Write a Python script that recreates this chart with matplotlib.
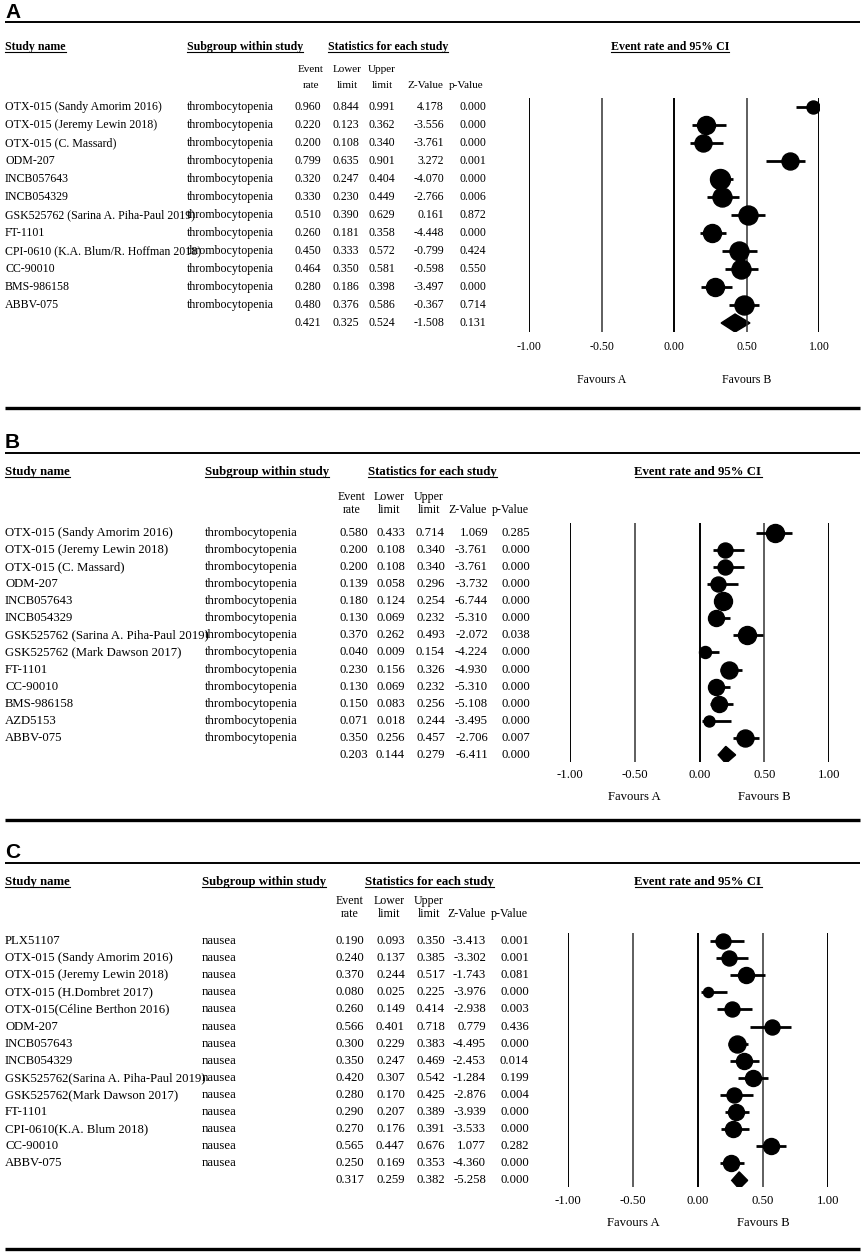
import matplotlib
matplotlib.use('Agg')
import matplotlib.pyplot as plt
from matplotlib.patches import Polygon

plt.rcParams['font.family'] = ['Liberation Serif', 'DejaVu Serif']

W, H = 865, 1252

# ---------------- data ----------------
a_names = ['OTX-015 (Sandy Amorim 2016)', 'OTX-015 (Jeremy Lewin 2018)', 'OTX-015 (C. Massard)',
           'ODM-207', 'INCB057643', 'INCB054329', 'GSK525762 (Sarina A. Piha-Paul 2019)', 'FT-1101',
           'CPI-0610 (K.A. Blum/R. Hoffman 2018)', 'CC-90010', 'BMS-986158', 'ABBV-075']
a_group = ['thrombocytopenia'] * 12
a_rate = [0.960, 0.220, 0.200, 0.799, 0.320, 0.330, 0.510, 0.260, 0.450, 0.464, 0.280, 0.480]
a_lower = [0.844, 0.123, 0.108, 0.635, 0.247, 0.230, 0.390, 0.181, 0.333, 0.350, 0.186, 0.376]
a_upper = [0.991, 0.362, 0.340, 0.901, 0.404, 0.449, 0.629, 0.358, 0.572, 0.581, 0.398, 0.586]
a_z = [4.178, -3.556, -3.761, 3.272, -4.070, -2.766, 0.161, -4.448, -0.799, -0.598, -3.497, -0.367]
a_p = [0.000, 0.000, 0.000, 0.001, 0.000, 0.006, 0.872, 0.000, 0.424, 0.550, 0.000, 0.714]
a_total = [0.421, 0.325, 0.524, -1.508, 0.131]
a_weight = [13, 18, 17, 17, 20, 19, 19, 18, 19, 19, 18, 19]

b_names = ['OTX-015 (Sandy Amorim 2016)', 'OTX-015 (Jeremy Lewin 2018)', 'OTX-015 (C. Massard)',
           'ODM-207', 'INCB057643', 'INCB054329', 'GSK525762 (Sarina A. Piha-Paul 2019)',
           'GSK525762 (Mark Dawson 2017)', 'FT-1101', 'CC-90010', 'BMS-986158', 'AZD5153', 'ABBV-075']
b_group = ['thrombocytopenia'] * 13
b_rate = [0.580, 0.200, 0.200, 0.139, 0.180, 0.130, 0.370, 0.040, 0.230, 0.130, 0.150, 0.071, 0.350]
b_lower = [0.433, 0.108, 0.108, 0.058, 0.124, 0.069, 0.262, 0.009, 0.156, 0.069, 0.083, 0.018, 0.256]
b_upper = [0.714, 0.340, 0.340, 0.296, 0.254, 0.232, 0.493, 0.154, 0.326, 0.232, 0.256, 0.244, 0.457]
b_z = [1.069, -3.761, -3.761, -3.732, -6.744, -5.310, -2.072, -4.224, -4.930, -5.310, -5.108, -3.495, -2.706]
b_p = [0.285, 0.000, 0.000, 0.000, 0.000, 0.000, 0.038, 0.000, 0.000, 0.000, 0.000, 0.000, 0.007]
b_total = [0.203, 0.144, 0.279, -6.411, 0.000]
b_weight = [18, 15, 15, 15, 18, 16, 18, 12, 17, 16, 16, 11, 17]

c_names = ['PLX51107', 'OTX-015 (Sandy Amorim 2016)', 'OTX-015 (Jeremy Lewin 2018)',
           'OTX-015 (H.Dombret 2017)', 'OTX-015(Céline Berthon 2016)', 'ODM-207', 'INCB057643',
           'INCB054329', 'GSK525762(Sarina A. Piha-Paul 2019)', 'GSK525762(Mark Dawson 2017)',
           'FT-1101', 'CPI-0610(K.A. Blum 2018)', 'CC-90010', 'ABBV-075']
c_group = ['nausea'] * 14
c_rate = [0.190, 0.240, 0.370, 0.080, 0.260, 0.566, 0.300, 0.350, 0.420, 0.280, 0.290, 0.270, 0.565, 0.250]
c_lower = [0.093, 0.137, 0.244, 0.025, 0.149, 0.401, 0.229, 0.247, 0.307, 0.170, 0.207, 0.176, 0.447, 0.169]
c_upper = [0.350, 0.385, 0.517, 0.225, 0.414, 0.718, 0.383, 0.469, 0.542, 0.425, 0.389, 0.391, 0.676, 0.353]
c_z = [-3.413, -3.302, -1.743, -3.976, -2.938, 0.779, -4.495, -2.453, -1.284, -2.876, -3.939, -3.533, 1.077, -4.360]
c_p = [0.001, 0.001, 0.081, 0.000, 0.003, 0.436, 0.000, 0.014, 0.199, 0.004, 0.000, 0.000, 0.282, 0.000]
c_total = [0.317, 0.259, 0.382, -5.258, 0.000]
c_weight = [15, 15, 16, 10, 15, 15, 17, 16, 16, 15, 16, 16, 16, 16]

ticks = [-1.0, -0.5, 0.0, 0.5, 1.0]
tick_labels = ['-1.00', '-0.50', '0.00', '0.50', '1.00']

fig = plt.figure(figsize=(W / 100, H / 100), dpi=100)
bg = fig.add_axes([0, 0, 1, 1])
bg.set_xlim(0, W)
bg.set_ylim(H, 0)
bg.axis('off')

headers = []


def draw_panel(letter, top, names, group, rate, lower, upper, zval, pval, total, weight,
               fs, x_sub, x_stat, x_ci, cols, col_mid, y_head, y_ev, y_rate, y_row0, step,
               plot_x, plot_y, y_tick, y_fav, y_bottom):
    bg.text(5, top + 12, letter, family='Liberation Sans', weight='bold', fontsize=15,
            ha='left', va='center')
    bg.plot([5, 860], [top + 22, top + 22], color='black', lw=1.4, solid_capstyle='butt')

    for x, s, ha in [(5, 'Study name', 'left'), (x_sub, 'Subgroup within study', 'left'),
                     (x_stat, 'Statistics for each study', 'left'),
                     (x_ci, 'Event rate and 95% CI', 'center')]:
        t = bg.text(x, y_head, s, fontsize=fs, weight='bold', ha=ha, va='center')
        headers.append(t)

    for xm, s in zip(col_mid[:3], ['Event', 'Lower', 'Upper']):
        bg.text(xm, y_ev, s, fontsize=fs - 0.6, ha='center', va='center')
    for xm, s in zip(col_mid, ['rate', 'limit', 'limit', 'Z-Value', 'p-Value']):
        bg.text(xm, y_rate, s, fontsize=fs - 0.6, ha='center', va='center')

    rows = list(zip(rate, lower, upper, zval, pval))
    for i, name in enumerate(names):
        y = y_row0 + i * step
        bg.text(5, y, name, fontsize=fs, ha='left', va='center')
        bg.text(x_sub, y, group[i], fontsize=fs, ha='left', va='center')
        for xr, v in zip(cols, rows[i]):
            bg.text(xr, y, '%.3f' % v, fontsize=fs, ha='right', va='center')
    y = y_row0 + len(names) * step
    for xr, v in zip(cols, total):
        bg.text(xr, y, '%.3f' % v, fontsize=fs, ha='right', va='center')

    # forest plot
    n = len(names) + 1
    x0, x1 = plot_x
    y0, y1 = plot_y
    ax = fig.add_axes([x0 / W, 1 - y1 / H, (x1 - x0) / W, (y1 - y0) / H])
    ax.set_facecolor('none')
    ax.set_xlim(-1, 1)
    top_off = (y_row0 - y0) / step
    bot_off = (y1 - y_row0) / step
    ax.set_ylim(bot_off, -top_off)
    for sp in ax.spines.values():
        sp.set_visible(False)
    for t in ticks:
        ax.axvline(t, color='black' if abs(t) != 0.5 else '#333333',
                   lw=1.4 if abs(t) != 0.5 else 1.1)
    ax.set_yticks([])
    ax.set_xticks(ticks)
    ax.set_xticklabels(tick_labels, fontsize=fs)
    ax.tick_params(axis='x', length=0, pad=(y_tick - y1 - 6) * 0.72)
    for i in range(len(names)):
        ax.plot([lower[i], upper[i]], [i, i], color='black', lw=2.0, solid_capstyle='butt')
        ax.plot(rate[i], i, 'o', color='black', markersize=weight[i] * 0.72)
    est, lo, hi = total[0], total[1], total[2]
    yy = n - 1
    ax.add_patch(Polygon([[lo, yy], [est, yy - 0.5], [hi, yy], [est, yy + 0.5]],
                         closed=True, color='black'))
    for xv, s in [(-0.5, 'Favours A'), (0.5, 'Favours B')]:
        ax.annotate(s, xy=(xv, 0), xycoords=('data', 'axes fraction'),
                    xytext=(0, -(y_fav - y1) * 0.72), textcoords='offset points',
                    ha='center', va='center', fontsize=fs)
    bg.plot([5, 860], [y_bottom, y_bottom], color='black', lw=2.4, solid_capstyle='butt')


draw_panel('A', 0, a_names, a_group, a_rate, a_lower, a_upper, a_z, a_p, a_total, a_weight,
           fs=8.6, x_sub=187, x_stat=328, x_ci=670,
           cols=[321, 359, 395, 444, 486], col_mid=[311, 347, 382, 425, 466],
           y_head=47, y_ev=70, y_rate=85, y_row0=107, step=18,
           plot_x=(529, 819), plot_y=(98, 332), y_tick=347, y_fav=380, y_bottom=408)

draw_panel('B', 431, b_names, b_group, b_rate, b_lower, b_upper, b_z, b_p, b_total, b_weight,
           fs=9.2, x_sub=205, x_stat=368, x_ci=698,
           cols=[368, 405, 445, 488, 530], col_mid=[352, 389, 429, 468, 510],
           y_head=472, y_ev=497, y_rate=510, y_row0=533, step=17.07,
           plot_x=(570, 829), plot_y=(523, 762), y_tick=775, y_fav=797, y_bottom=820)

draw_panel('C', 841, c_names, c_group, c_rate, c_lower, c_upper, c_z, c_p, c_total, c_weight,
           fs=9.2, x_sub=202, x_stat=365, x_ci=698,
           cols=[364, 405, 445, 486, 529], col_mid=[350, 389, 429, 467, 509],
           y_head=882, y_ev=901, y_rate=914, y_row0=941, step=17.1,
           plot_x=(568, 828), plot_y=(933, 1187), y_tick=1201, y_fav=1223, y_bottom=1249)

# underline the bold column headers
fig.canvas.draw()
renderer = fig.canvas.get_renderer()
inv = bg.transData.inverted()
for t in headers:
    bb = t.get_window_extent(renderer)
    (xa, ya), (xb, yb) = inv.transform([[bb.x0, bb.y0], [bb.x1, bb.y1]])
    yl = max(ya, yb) - 1.5
    bg.plot([xa, xb], [yl, yl], color='black', lw=0.8)

fig.savefig('out.png', dpi=100)
